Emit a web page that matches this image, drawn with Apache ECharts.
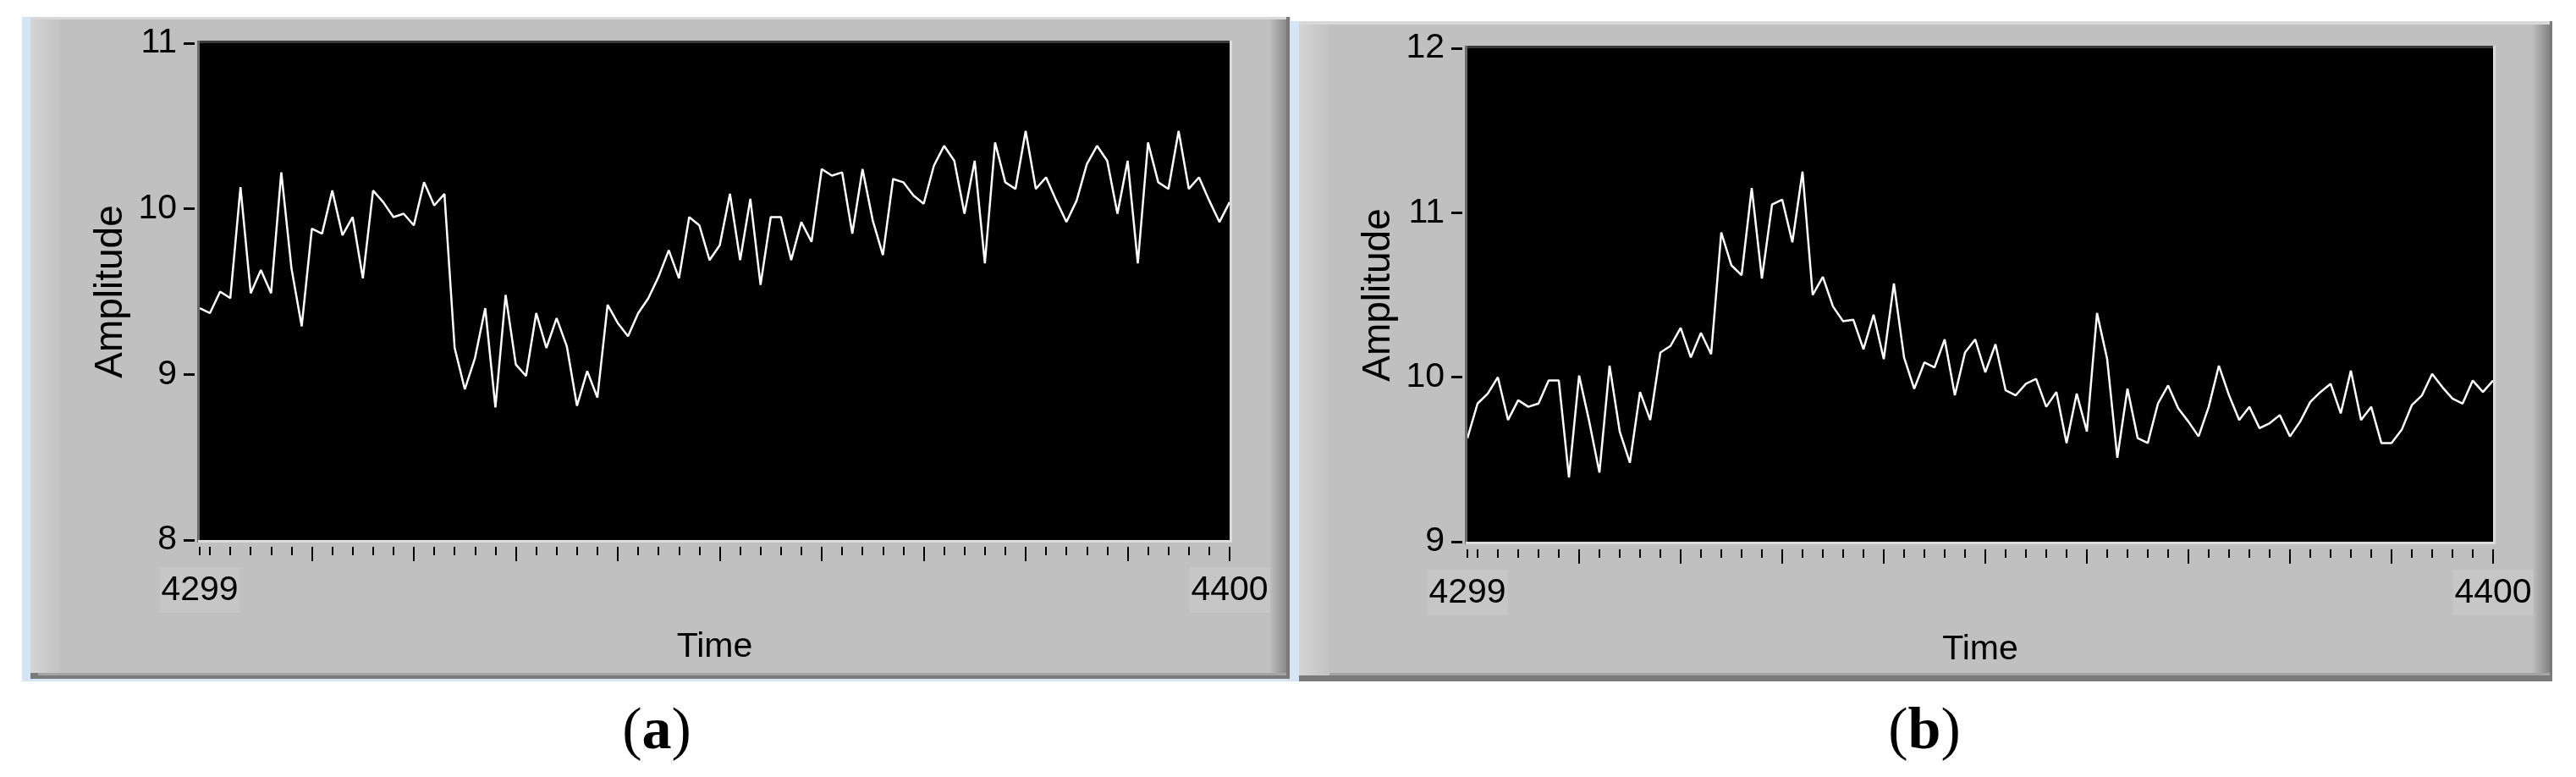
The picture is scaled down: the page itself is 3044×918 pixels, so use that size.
<!DOCTYPE html>
<html>
<head>
<meta charset="utf-8">
<script src="https://cdn.jsdelivr.net/npm/echarts@6/dist/echarts.min.js"></script>
<style>
html,body{margin:0;padding:0;background:#ffffff;}
#chart{width:3044px;height:918px;}
</style>
</head>
<body>
<div id="chart"></div>
<script>
// ---------------- data ----------------
const timeStart = 4299;
const timeEnd = 4400;

// Panel (a) amplitude samples, time 4299..4400
const ampA = [
  9.40, 9.37, 9.50, 9.46, 10.13, 9.49, 9.63, 9.49, 10.22, 9.64,
  9.29, 9.88, 9.85, 10.11, 9.84, 9.95, 9.58, 10.11, 10.04, 9.95,
  9.97, 9.90, 10.16, 10.02, 10.09, 9.16, 8.91, 9.10, 9.40, 8.80,
  9.48, 9.06, 8.99, 9.37, 9.16, 9.34, 9.17, 8.81, 9.02, 8.86,
  9.42, 9.31, 9.23, 9.37, 9.46, 9.59, 9.75, 9.58, 9.95, 9.90,
  9.69, 9.78, 10.09, 9.69, 10.06, 9.54, 9.95, 9.95, 9.69, 9.92,
  9.80, 10.24, 10.20, 10.22, 9.85, 10.24, 9.93, 9.72, 10.18, 10.16,
  10.08, 10.03, 10.26, 10.38, 10.29, 9.97, 10.29, 9.67, 10.40, 10.16,
  10.12, 10.47, 10.12, 10.19, 10.05, 9.92, 10.05, 10.27, 10.38, 10.29,
  9.97, 10.29, 9.67, 10.40, 10.16, 10.12, 10.47, 10.12, 10.19, 10.05,
  9.92, 10.04
];

// Panel (b) amplitude samples, time 4299..4400
const ampB = [
  9.63, 9.84, 9.90, 10.00, 9.74, 9.86, 9.82, 9.84, 9.98, 9.98,
  9.39, 10.01, 9.73, 9.42, 10.07, 9.67, 9.48, 9.91, 9.74, 10.15,
  10.19, 10.30, 10.12, 10.27, 10.14, 10.88, 10.68, 10.62, 11.15, 10.60,
  11.05, 11.08, 10.82, 11.25, 10.50, 10.61, 10.43, 10.34, 10.35, 10.17,
  10.38, 10.11, 10.57, 10.12, 9.93, 10.09, 10.06, 10.23, 9.89, 10.15,
  10.23, 10.03, 10.20, 9.92, 9.89, 9.96, 9.99, 9.82, 9.91, 9.60,
  9.90, 9.67, 10.39, 10.11, 9.51, 9.93, 9.63, 9.60, 9.84, 9.95,
  9.81, 9.73, 9.64, 9.82, 10.07, 9.89, 9.74, 9.82, 9.69, 9.72,
  9.77, 9.64, 9.73, 9.85, 9.91, 9.96, 9.78, 10.04, 9.74, 9.82,
  9.60, 9.60, 9.68, 9.83, 9.89, 10.02, 9.94, 9.87, 9.84, 9.98,
  9.91, 9.98
];

const yTicksA = [8, 9, 10, 11];
const yTicksB = [9, 10, 11, 12];
const xLabelValues = [4299, 4400];
const xMajorTicks = [4310, 4320, 4330, 4340, 4350, 4360, 4370, 4380, 4390, 4400];
const xMinorTicks = [4299, 4300, 4302, 4304, 4306, 4308, 4312, 4314, 4316, 4318,
  4322, 4324, 4326, 4328, 4332, 4334, 4336, 4338, 4342, 4344, 4346, 4348,
  4352, 4354, 4356, 4358, 4362, 4364, 4366, 4368, 4372, 4374, 4376, 4378,
  4382, 4384, 4386, 4388, 4392, 4394, 4396, 4398];
const xName = 'Time';
const yName = 'Amplitude';
const captions = ['a', 'b'];

// ---------------- styling / layout ----------------
const FONT = "'Liberation Sans',Arial,sans-serif";
const FONT_S = "'Liberation Serif','DejaVu Serif',serif";
const plain = v => String(v);

const panels = [
  { grid: { left: 236, top: 51, width: 1217, height: 587 }, yTicks: yTicksA, values: ampA, xOff: 8 },
  { grid: { left: 1734, top: 57, width: 1212, height: 583 }, yTicks: yTicksB, values: ampB, xOff: 9 }
];

const grids = [], xAxes = [], yAxes = [], series = [];
panels.forEach((p, g) => {
  grids.push(Object.assign({ show: true, backgroundColor: '#000000', borderWidth: 0, containLabel: false }, p.grid));
  xAxes.push({
    gridIndex: g, type: 'value', min: timeStart, max: timeEnd, position: 'bottom', offset: p.xOff,
    axisLine: { show: false },
    axisTick: { show: true, customValues: xMajorTicks, length: 17, lineStyle: { color: '#000', width: 2 } },
    axisLabel: { show: true, customValues: xLabelValues, formatter: plain, margin: 24, fontSize: 41, fontFamily: FONT, color: '#000',
      backgroundColor: '#c6c6c6', padding: [7, 2, 6, 2] },
    splitLine: { show: false },
    name: xName, nameLocation: 'middle', nameGap: 98,
    nameTextStyle: { fontSize: 41, fontFamily: FONT, color: '#000' }
  });
  xAxes.push({
    gridIndex: g, type: 'value', min: timeStart, max: timeEnd, position: 'bottom', offset: p.xOff,
    axisLine: { show: false },
    axisTick: { show: true, customValues: xMinorTicks, length: 10, lineStyle: { color: '#000', width: 2 } },
    axisLabel: { show: false },
    splitLine: { show: false }
  });
  yAxes.push({
    gridIndex: g, type: 'value', min: p.yTicks[0], max: p.yTicks[p.yTicks.length - 1], interval: 1,
    position: 'left', offset: 6,
    axisLine: { show: false },
    axisTick: { show: true, length: 13, lineStyle: { color: '#000', width: 3 } },
    axisLabel: { margin: 21, fontSize: 41, fontFamily: FONT, color: '#000', formatter: plain },
    splitLine: { show: false },
    name: yName, nameLocation: 'middle', nameRotate: 90, nameGap: 76,
    nameTextStyle: { fontSize: 46, fontFamily: FONT, color: '#000' }
  });
  series.push({
    type: 'line', xAxisIndex: g * 2, yAxisIndex: g,
    data: p.values.map((v, i) => [timeStart + i, v]),
    showSymbol: false, symbol: 'none', smooth: false,
    lineStyle: { color: '#ffffff', width: 2.5 },
    animation: false, silent: true
  });
});

function rect(x, y, w, h, fill, z) {
  return { type: 'rect', shape: { x: x, y: y, width: w, height: h }, style: { fill: fill }, z: z, silent: true };
}
function hGrad(c1, c2) {
  return { type: 'linear', x: 0, y: 0, x2: 1, y2: 0, colorStops: [{ offset: 0, color: c1 }, { offset: 1, color: c2 }] };
}

const graphics = [
  // panel (a) frame
  rect(26, 20, 1499, 785, '#d6e5f5', -9),
  rect(36, 20, 1488, 782, '#7a7a7a', -8),
  rect(36, 20, 1464, 775, '#c0c0c0', -7),
  rect(1500, 20, 20, 775, hGrad('#c0c0c0', '#8a8a8a'), -6),
  rect(45, 795, 1475, 3, '#a4a4a4', -6),
  rect(36, 20, 35, 775, hGrad('#d4d4d4', '#c2c2c2'), -6),
  rect(36, 20, 1484, 3, '#d8d8d8', -5),
  // panel (b) frame
  rect(1525, 25, 10, 780, '#d6e5f5', -9),
  rect(1535, 25, 1481, 780, '#7a7a7a', -8),
  rect(1535, 25, 1457, 773, '#c0c0c0', -7),
  rect(2992, 25, 21, 773, hGrad('#c0c0c0', '#828282'), -6),
  rect(1543, 795, 1470, 3, '#a4a4a4', -6),
  rect(1535, 25, 36, 773, hGrad('#d4d4d4', '#c2c2c2'), -6),
  rect(1535, 25, 1478, 4, '#d8d8d8', -5),
  // plot borders (a)
  rect(234, 48, 1222, 3, '#3a3a3a', 10),
  rect(233, 48, 3, 593, '#6a6a6a', 10),
  rect(234, 638, 1222, 3, '#dcdcdc', 10),
  rect(1453, 48, 3, 593, '#dcdcdc', 10),
  // plot borders (b)
  rect(1732, 54, 1217, 3, '#3a3a3a', 10),
  rect(1731, 54, 3, 589, '#6a6a6a', 10),
  rect(1732, 640, 1217, 3, '#dcdcdc', 10),
  rect(2946, 54, 3, 589, '#dcdcdc', 10),
  // captions
  {
    type: 'text', x: 776, y: 866, z: 10, silent: true,
    style: { text: '({b|' + captions[0] + '})', fontSize: 70, fontFamily: FONT_S, fill: '#000', align: 'center', verticalAlign: 'middle',
      rich: { b: { fontSize: 70, fontFamily: FONT_S, fontWeight: 'bold', fill: '#000' } } }
  },
  {
    type: 'text', x: 2274, y: 866, z: 10, silent: true,
    style: { text: '({b|' + captions[1] + '})', fontSize: 70, fontFamily: FONT_S, fill: '#000', align: 'center', verticalAlign: 'middle',
      rich: { b: { fontSize: 70, fontFamily: FONT_S, fontWeight: 'bold', fill: '#000' } } }
  }
];

const chart = echarts.init(document.getElementById('chart'), null, { renderer: 'canvas', width: 3044, height: 918 });
chart.setOption({
  backgroundColor: '#ffffff',
  animation: false,
  grid: grids,
  xAxis: xAxes,
  yAxis: yAxes,
  series: series,
  graphic: { elements: graphics }
});
</script>
</body>
</html>
